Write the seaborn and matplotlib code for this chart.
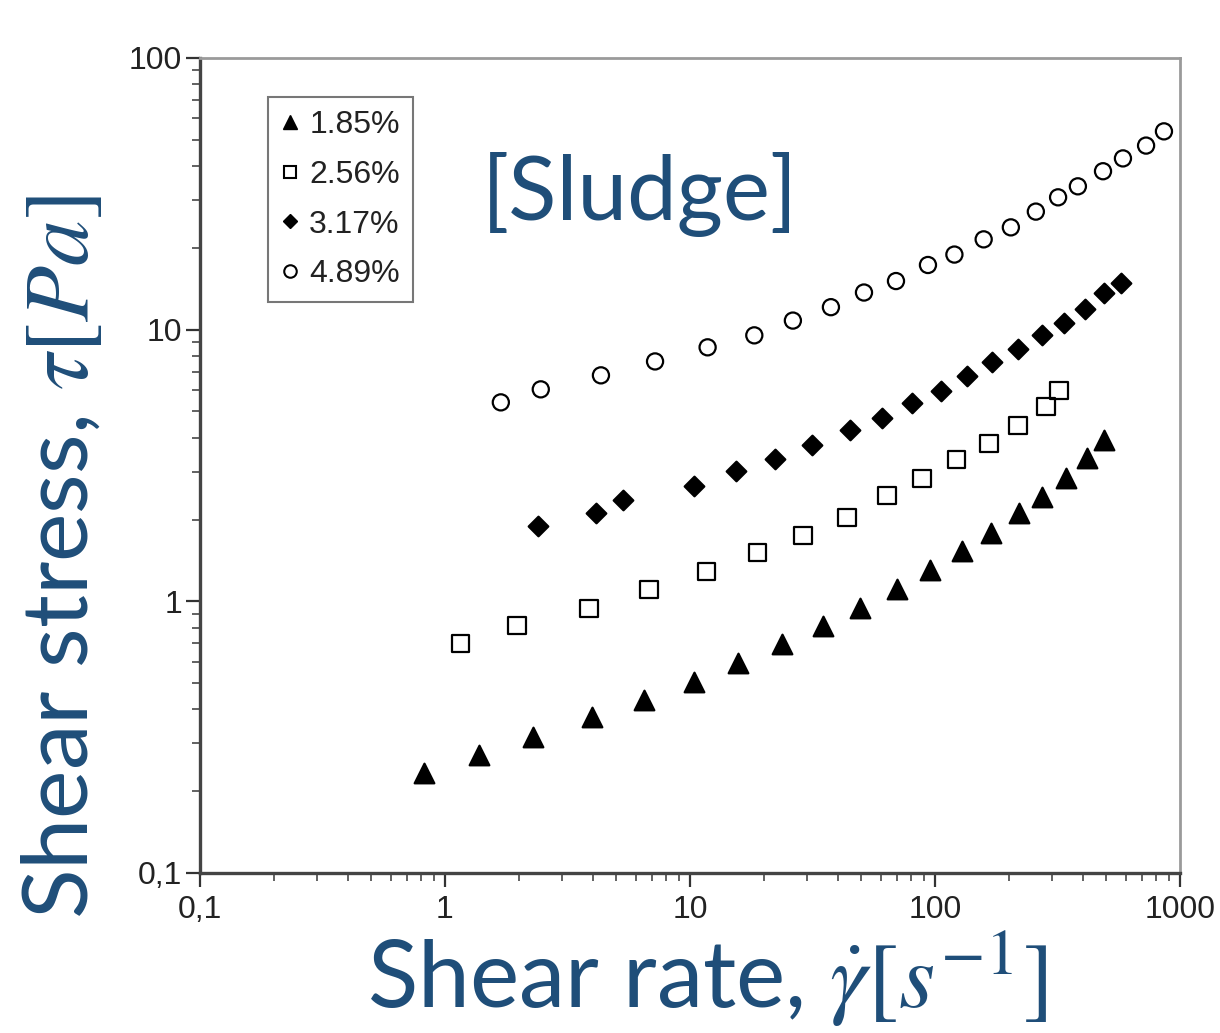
import matplotlib
matplotlib.use("Agg")
import matplotlib.pyplot as plt
import seaborn as sns
import numpy as np
import pandas as pd
from matplotlib.lines import Line2D
from matplotlib.ticker import LogLocator, NullFormatter

# ---------------- data ----------------
labels = ["1.85%", "2.56%", "3.17%", "4.89%"]

rate_185 = [0.82, 1.38, 2.29, 3.98, 6.49, 10.4, 15.7, 23.7, 34.9, 49.4, 70, 95.5,
            129, 169, 220, 273, 343, 417, 490]
stress_185 = [0.233, 0.271, 0.316, 0.374, 0.432, 0.503, 0.591, 0.695, 0.809, 0.942,
              1.107, 1.30, 1.53, 1.79, 2.11, 2.43, 2.84, 3.36, 3.91]

rate_256 = [1.16, 1.97, 3.87, 6.8, 11.7, 18.9, 28.9, 43.7, 63.7, 88.5, 122, 166,
            218, 284, 321]
stress_256 = [0.70, 0.816, 0.942, 1.107, 1.29, 1.51, 1.75, 2.04, 2.45, 2.84, 3.33,
              3.82, 4.44, 5.22, 5.98]

rate_317 = [2.4, 4.13, 5.33, 10.4, 15.4, 22.2, 31.5, 45, 60.8, 80.5, 106, 135, 171,
            218, 273, 336, 410, 490, 574]
stress_317 = [1.89, 2.11, 2.37, 2.65, 3.01, 3.33, 3.75, 4.26, 4.72, 5.36, 5.93, 6.73,
              7.58, 8.46, 9.53, 10.6, 11.9, 13.7, 14.8]

rate_489 = [1.69, 2.46, 4.33, 7.2, 11.8, 18.3, 26.3, 37.6, 51.3, 69.3, 93.6, 120,
            158, 204, 258, 318, 383, 485, 585, 727, 860]
stress_489 = [5.4, 6.03, 6.79, 7.64, 8.61, 9.53, 10.8, 12.1, 13.7, 15.1, 17.3, 18.9,
              21.5, 23.8, 27.2, 30.7, 33.7, 38.3, 42.7, 47.6, 53.7]

x_ticks = [0.1, 1, 10, 100, 1000]
x_ticklabels = ["0,1", "1", "10", "100", "1000"]
y_ticks = [0.1, 1, 10, 100]
y_ticklabels = ["0,1", "1", "10", "100"]

# ---------------- style ----------------
sns.set_theme(style="white")
plt.rcParams["font.family"] = ["Liberation Sans", "DejaVu Sans"]
plt.rcParams["mathtext.fontset"] = "stix"

BLUE = "#1f4e79"

fig = plt.figure(figsize=(12.2, 10.33), dpi=100)
ax = fig.add_axes([200 / 1220, 1 - 873 / 1033, 980 / 1220, 815 / 1033])

series = [
    (rate_185, stress_185, "^", 200, "black", labels[0]),
    (rate_256, stress_256, "s", 155, "none", labels[1]),
    (rate_317, stress_317, "D", 100, "black", labels[2]),
    (rate_489, stress_489, "o", 135, "none", labels[3]),
]
for xs, ys, mk, size, fc, lab in series:
    df = pd.DataFrame({"rate": xs, "stress": ys})
    sns.scatterplot(data=df, x="rate", y="stress", marker=mk, s=size,
                    color="black", facecolor=fc, edgecolor="black",
                    linewidth=1.6, ax=ax, legend=False, zorder=3)

ax.set_xscale("log")
ax.set_yscale("log")
ax.set_xlim(0.1, 1000)
ax.set_ylim(0.1, 100)
ax.set_xticks(x_ticks)
ax.set_xticklabels(x_ticklabels)
ax.set_yticks(y_ticks)
ax.set_yticklabels(y_ticklabels)
ax.xaxis.set_minor_locator(LogLocator(base=10, subs=np.arange(2, 10)))
ax.yaxis.set_minor_locator(LogLocator(base=10, subs=np.arange(2, 10)))
ax.xaxis.set_minor_formatter(NullFormatter())
ax.yaxis.set_minor_formatter(NullFormatter())
ax.set_xlabel("")
ax.set_ylabel("")

ax.tick_params(which="both", bottom=True, left=True, top=False, right=False,
               direction="out")
ax.tick_params(which="major", length=10, width=1.6, color="#333333",
               labelsize=23, labelcolor="#222222")
ax.tick_params(axis="x", which="major", pad=6)
ax.tick_params(axis="y", which="major", pad=3)
ax.tick_params(which="minor", length=6, width=1.3, color="#555555")

for side in ["left", "bottom"]:
    ax.spines[side].set_color("#444444")
    ax.spines[side].set_linewidth(2.4)
for side in ["top", "right"]:
    ax.spines[side].set_color("#9a9a9a")
    ax.spines[side].set_linewidth(2.0)

# legend
handles = [
    Line2D([], [], linestyle="none", marker="^", ms=10, mfc="black", mec="black"),
    Line2D([], [], linestyle="none", marker="s", ms=9, mfc="none", mec="black", mew=1.5),
    Line2D([], [], linestyle="none", marker="D", ms=7, mfc="black", mec="black"),
    Line2D([], [], linestyle="none", marker="o", ms=9, mfc="none", mec="black", mew=1.5),
]
leg = ax.legend(handles, labels, loc="upper left", bbox_to_anchor=(0.069, 0.952),
                frameon=True, fancybox=False, edgecolor="#555555", fontsize=23,
                handlelength=0.6, handletextpad=0.3, labelspacing=0.62,
                borderpad=0.4, borderaxespad=0)
leg.get_frame().set_linewidth(1.5)
for t in leg.get_texts():
    t.set_color("#222222")

# annotations / axis titles
fig.text(482 / 1220, 1 - 220 / 1033, "[Sludge]", color=BLUE, fontsize=64,
         family=["Lato", "DejaVu Sans"], ha="left", va="baseline")
fig.text(62 / 1220, 1 - 557 / 1033, r"Shear stress, $\tau[Pa]$", color=BLUE,
         fontsize=66, family=["Lato", "DejaVu Sans"], rotation=90,
         ha="center", va="center")
fig.text(707 / 1220, 1 - 1008 / 1033, r"Shear rate, $\dot{\gamma}[s^{-1}]$",
         color=BLUE, fontsize=67, family=["Lato", "DejaVu Sans"],
         ha="center", va="baseline")

fig.savefig("out.png", dpi=100, facecolor="white")
